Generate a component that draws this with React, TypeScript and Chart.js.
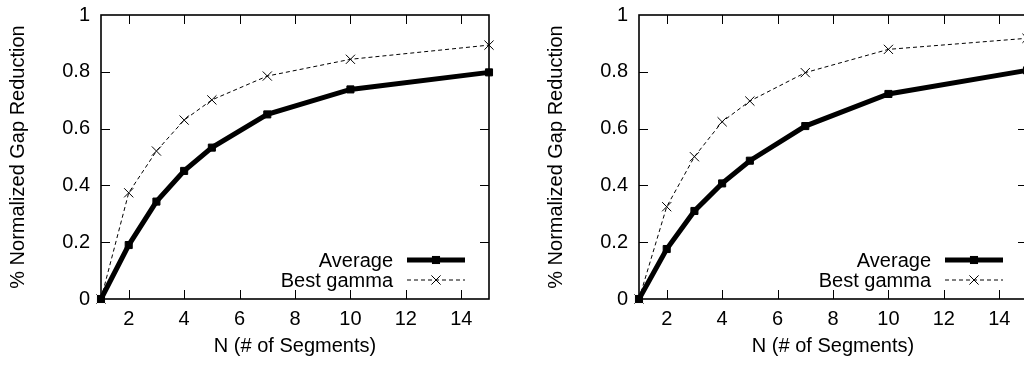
import React, { useEffect, useRef } from "react";
import { Chart, registerables } from "chart.js";

Chart.register(...registerables);

const nValues = [1, 2, 3, 4, 5, 7, 10, 15];
const leftAverage = [0, 0.19, 0.343, 0.451, 0.533, 0.65, 0.738, 0.798];
const leftBestGamma = [0, 0.374, 0.521, 0.63, 0.701, 0.785, 0.844, 0.894];
const rightAverage = [0, 0.176, 0.31, 0.407, 0.487, 0.609, 0.722, 0.805];
const rightBestGamma = [0, 0.325, 0.501, 0.624, 0.697, 0.797, 0.879, 0.918];
const xTickValues = [2, 4, 6, 8, 10, 12, 14];
const yTickValues = [0, 0.2, 0.4, 0.6, 0.8, 1];
const seriesLabels = ["Average", "Best gamma"];
const xAxisTitle = "N (# of Segments)";
const yAxisTitle = "% Normalized Gap Reduction";

const FONT_FAMILY = "'Liberation Sans', Arial, Helvetica, sans-serif";
const font = { family: FONT_FAMILY, size: 20 };

const framePlugin = {
  id: "frame",
  afterDraw(chart: any) {
    const { ctx, chartArea } = chart;
    const { left, right, top, bottom } = chartArea;
    const xs = chart.scales.x;
    const ys = chart.scales.y;
    ctx.save();
    ctx.strokeStyle = "#000";
    ctx.lineWidth = 1.6;
    ctx.strokeRect(left, top, right - left, bottom - top);
    ctx.lineWidth = 1;
    const tl = 9;
    ctx.beginPath();
    xTickValues.forEach((v) => {
      const px = Math.round(xs.getPixelForValue(v)) + 0.5;
      ctx.moveTo(px, bottom);
      ctx.lineTo(px, bottom - tl);
      ctx.moveTo(px, top);
      ctx.lineTo(px, top + tl);
    });
    yTickValues.forEach((v) => {
      if (v === 0 || v === 1) return;
      const py = Math.round(ys.getPixelForValue(v)) + 0.5;
      ctx.moveTo(left, py);
      ctx.lineTo(left + tl, py);
      ctx.moveTo(right, py);
      ctx.lineTo(right - tl, py);
    });
    ctx.stroke();

    // legend (text left of line sample), bottom-right inside plot
    const textRight = 393;
    const lineStart = 407;
    const lineEnd = 465;
    const rows = [260, 280];
    ctx.font = `20px ${FONT_FAMILY}`;
    ctx.fillStyle = "#000";
    ctx.textAlign = "right";
    ctx.textBaseline = "middle";
    chart.data.datasets.forEach((ds: any, i: number) => {
      const y = rows[i];
      ctx.fillText(ds.label, textRight, y + 1);
      ctx.save();
      ctx.strokeStyle = ds.borderColor;
      ctx.lineWidth = ds.borderWidth;
      ctx.setLineDash(ds.borderDash || []);
      ctx.beginPath();
      ctx.moveTo(lineStart, y);
      ctx.lineTo(lineEnd, y);
      ctx.stroke();
      ctx.setLineDash([]);
      ctx.restore();
      ctx.save();
      ctx.strokeStyle = ds.pointBorderColor;
      ctx.fillStyle = ds.pointBackgroundColor;
      ctx.lineWidth = ds.pointBorderWidth;
      const mx = (lineStart + lineEnd) / 2;
      const s = ds.pointRadius * Math.SQRT1_2;
      if (ds.pointStyle === "rect") {
        ctx.fillRect(mx - s, y - s, 2 * s, 2 * s);
        ctx.strokeRect(mx - s, y - s, 2 * s, 2 * s);
      } else {
        ctx.beginPath();
        ctx.moveTo(mx - s, y - s);
        ctx.lineTo(mx + s, y + s);
        ctx.moveTo(mx - s, y + s);
        ctx.lineTo(mx + s, y - s);
        ctx.stroke();
      }
      ctx.restore();
    });
    ctx.restore();
  },
};

function makeConfig(avg: number[], best: number[]): any {
  return {
    type: "line",
    data: {
      datasets: [
        {
          label: seriesLabels[0],
          data: nValues.map((n, i) => ({ x: n, y: avg[i] })),
          borderColor: "#000",
          backgroundColor: "#000",
          borderWidth: 5,
          pointStyle: "rect",
          pointRadius: 5,
          pointBorderWidth: 1,
          pointBackgroundColor: "#000",
          pointBorderColor: "#000",
          clip: false,
          order: 1,
        },
        {
          label: seriesLabels[1],
          data: nValues.map((n, i) => ({ x: n, y: best[i] })),
          borderColor: "#000",
          backgroundColor: "#000",
          borderWidth: 1,
          borderDash: [4, 3],
          pointStyle: "crossRot",
          pointRadius: 6.5,
          pointBorderWidth: 1,
          pointBackgroundColor: "#000",
          pointBorderColor: "#000",
          clip: false,
          order: 2,
        },
      ],
    },
    options: {
      animation: false,
      responsive: false,
      maintainAspectRatio: false,
      layout: { padding: { left: 0, right: 49, top: 15, bottom: 0 } },
      plugins: { legend: { display: false }, tooltip: { enabled: false } },
      scales: {
        x: {
          type: "linear",
          min: 1,
          max: 15,
          afterBuildTicks: (s: any) => {
            s.ticks = xTickValues.map((v) => ({ value: v }));
          },
          afterFit: (s: any) => {
            s.height = 66;
            s.paddingLeft = 0;
            s.paddingRight = 0;
          },
          grid: { display: false, drawTicks: false },
          border: { display: false },
          ticks: {
            padding: 8,
            color: "#000",
            font,
            maxRotation: 0,
            autoSkip: false,
            callback: (v: any) => String(v),
          },
          title: {
            display: true,
            text: xAxisTitle,
            color: "#000",
            font,
            padding: { top: 0, bottom: 7 },
          },
        },
        y: {
          type: "linear",
          min: 0,
          max: 1,
          afterBuildTicks: (s: any) => {
            s.ticks = yTickValues.map((v) => ({ value: v }));
          },
          afterFit: (s: any) => {
            s.width = 101;
            s.paddingTop = 0;
            s.paddingBottom = 0;
          },
          grid: { display: false, drawTicks: false },
          border: { display: false },
          ticks: {
            padding: 11,
            color: "#000",
            font,
            autoSkip: false,
            callback: (v: any) => String(Math.round(v * 10) / 10),
          },
          title: {
            display: true,
            text: yAxisTitle,
            color: "#000",
            font,
            padding: { top: 6, bottom: 0 },
          },
        },
      },
    },
    plugins: [framePlugin],
  };
}

function Panel({ avg, best, left }: { avg: number[]; best: number[]; left: number }) {
  const ref = useRef<HTMLCanvasElement>(null);
  useEffect(() => {
    if (!ref.current) return;
    const chart = new Chart(ref.current, makeConfig(avg, best));
    return () => chart.destroy();
  }, [avg, best]);
  return (
    <canvas
      ref={ref}
      width={538}
      height={365}
      style={{ position: "absolute", left, top: 0, width: 538, height: 365 }}
    />
  );
}

export default function App() {
  return (
    <div
      style={{
        position: "absolute",
        left: 0,
        top: 0,
        width: 1024,
        height: 365,
        overflow: "hidden",
        background: "#fff",
      }}
    >
      <Panel avg={leftAverage} best={leftBestGamma} left={0} />
      <Panel avg={rightAverage} best={rightBestGamma} left={538} />
    </div>
  );
}
